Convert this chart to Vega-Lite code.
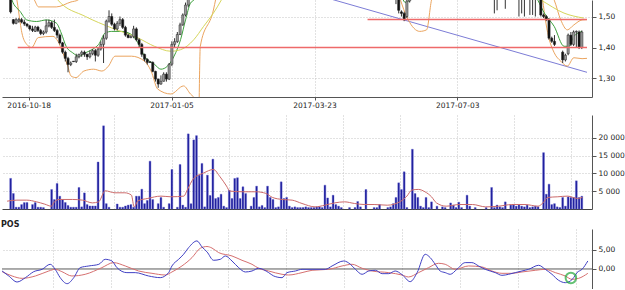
{
"$schema":"https://vega.github.io/schema/vega-lite/v6.json",
"padding":0,
"background":"white",
"spacing":6,
"resolve":{"scale":{"color":"independent"}},
"config":{"view":{"stroke":null},"axis":{"labelFont":"DejaVu Sans","labelFontSize":7.5,"labelColor":"#222","domainColor":"#555","tickColor":"#555","gridColor":"#c4c4c4","gridDash":[1,2],"title":null,"labelOverlap":false,"zindex":0},"axisY":{"labelOverlap":false},"axisRight":{"labelOverlap":false},"title":{"font":"DejaVu Sans","fontSize":8,"fontWeight":"bold","color":"#222"}},
"datasets":{
"candles":[
{"i":0,"o":1.56,"h":1.565,"l":1.51,"c":1.515},{"i":1,"o":1.49,"h":1.492,"l":1.474,"c":1.478},{"i":2,"o":1.478,"h":1.495,"l":1.475,"c":1.49},{"i":3,"o":1.485,"h":1.495,"l":1.48,"c":1.49},{"i":4,"o":1.49,"h":1.495,"l":1.478,"c":1.482},{"i":5,"o":1.482,"h":1.49,"l":1.47,"c":1.476},{"i":6,"o":1.476,"h":1.478,"l":1.465,"c":1.47},{"i":7,"o":1.47,"h":1.472,"l":1.455,"c":1.46},{"i":8,"o":1.46,"h":1.47,"l":1.45,"c":1.455},{"i":9,"o":1.452,"h":1.47,"l":1.45,"c":1.466},{"i":10,"o":1.466,"h":1.47,"l":1.45,"c":1.455},{"i":11,"o":1.455,"h":1.46,"l":1.44,"c":1.445},{"i":12,"o":1.445,"h":1.455,"l":1.44,"c":1.45},{"i":13,"o":1.45,"h":1.49,"l":1.445,"c":1.47},{"i":14,"o":1.47,"h":1.49,"l":1.465,"c":1.48},{"i":15,"o":1.48,"h":1.485,"l":1.46,"c":1.465},{"i":16,"o":1.465,"h":1.49,"l":1.45,"c":1.455},{"i":17,"o":1.455,"h":1.46,"l":1.43,"c":1.44},{"i":18,"o":1.44,"h":1.445,"l":1.41,"c":1.415},{"i":19,"o":1.415,"h":1.418,"l":1.38,"c":1.385},{"i":20,"o":1.385,"h":1.39,"l":1.355,"c":1.365},{"i":21,"o":1.365,"h":1.37,"l":1.32,"c":1.345},{"i":22,"o":1.345,"h":1.355,"l":1.34,"c":1.35},{"i":23,"o":1.356,"h":1.356,"l":1.354,"c":1.354},{"i":24,"o":1.355,"h":1.38,"l":1.35,"c":1.37},{"i":25,"o":1.37,"h":1.38,"l":1.365,"c":1.378},{"i":26,"o":1.378,"h":1.39,"l":1.37,"c":1.385},{"i":27,"o":1.385,"h":1.39,"l":1.37,"c":1.378},{"i":28,"o":1.378,"h":1.38,"l":1.36,"c":1.37},{"i":29,"o":1.37,"h":1.39,"l":1.365,"c":1.38},{"i":30,"o":1.38,"h":1.395,"l":1.375,"c":1.39},{"i":31,"o":1.39,"h":1.395,"l":1.355,"c":1.375},{"i":32,"o":1.375,"h":1.4,"l":1.37,"c":1.395},{"i":33,"o":1.395,"h":1.42,"l":1.39,"c":1.41},{"i":34,"o":1.41,"h":1.44,"l":1.35,"c":1.43},{"i":35,"o":1.43,"h":1.49,"l":1.425,"c":1.485},{"i":36,"o":1.485,"h":1.52,"l":1.48,"c":1.5},{"i":37,"o":1.5,"h":1.51,"l":1.47,"c":1.475},{"i":38,"o":1.475,"h":1.48,"l":1.455,"c":1.46},{"i":39,"o":1.46,"h":1.485,"l":1.455,"c":1.478},{"i":40,"o":1.478,"h":1.5,"l":1.47,"c":1.49},{"i":41,"o":1.49,"h":1.495,"l":1.46,"c":1.465},{"i":42,"o":1.465,"h":1.47,"l":1.435,"c":1.44},{"i":43,"o":1.44,"h":1.445,"l":1.43,"c":1.432},{"i":44,"o":1.432,"h":1.44,"l":1.43,"c":1.435},{"i":45,"o":1.435,"h":1.47,"l":1.43,"c":1.46},{"i":46,"o":1.46,"h":1.465,"l":1.42,"c":1.425},{"i":47,"o":1.425,"h":1.43,"l":1.4,"c":1.41},{"i":48,"o":1.41,"h":1.415,"l":1.37,"c":1.378},{"i":49,"o":1.378,"h":1.38,"l":1.355,"c":1.362},{"i":50,"o":1.362,"h":1.365,"l":1.345,"c":1.352},{"i":51,"o":1.354,"h":1.355,"l":1.35,"c":1.352},{"i":52,"o":1.352,"h":1.355,"l":1.32,"c":1.323},{"i":53,"o":1.323,"h":1.325,"l":1.29,"c":1.298},{"i":54,"o":1.298,"h":1.3,"l":1.27,"c":1.282},{"i":55,"o":1.282,"h":1.31,"l":1.28,"c":1.291},{"i":56,"o":1.291,"h":1.32,"l":1.29,"c":1.314},{"i":57,"o":1.314,"h":1.32,"l":1.29,"c":1.298},{"i":58,"o":1.298,"h":1.35,"l":1.295,"c":1.346},{"i":59,"o":1.346,"h":1.42,"l":1.34,"c":1.41},{"i":60,"o":1.41,"h":1.43,"l":1.4,"c":1.419},{"i":61,"o":1.419,"h":1.45,"l":1.415,"c":1.442},{"i":62,"o":1.442,"h":1.48,"l":1.44,"c":1.473},{"i":63,"o":1.473,"h":1.51,"l":1.47,"c":1.505},{"i":64,"o":1.505,"h":1.545,"l":1.5,"c":1.537},{"i":65,"o":1.537,"h":1.58,"l":1.53,"c":1.57},
{"i":141,"o":1.58,"h":1.59,"l":1.54,"c":1.56},{"i":142,"o":1.56,"h":1.565,"l":1.51,"c":1.52},{"i":143,"o":1.515,"h":1.52,"l":1.5,"c":1.51},{"i":144,"o":1.51,"h":1.515,"l":1.485,"c":1.49},{"i":145,"o":1.5,"h":1.57,"l":1.495,"c":1.55},{"i":146,"o":1.55,"h":1.6,"l":1.545,"c":1.58},
{"i":177,"o":1.58,"h":1.59,"l":1.51,"c":1.56},{"i":178,"o":1.56,"h":1.57,"l":1.52,"c":1.565},{"i":181,"o":1.56,"h":1.58,"l":1.525,"c":1.57},{"i":186,"o":1.57,"h":1.58,"l":1.5,"c":1.56},{"i":187,"o":1.56,"h":1.57,"l":1.51,"c":1.565},{"i":188,"o":1.56,"h":1.58,"l":1.5,"c":1.565},{"i":190,"o":1.565,"h":1.57,"l":1.505,"c":1.56},{"i":191,"o":1.56,"h":1.58,"l":1.505,"c":1.565},{"i":192,"o":1.565,"h":1.57,"l":1.5,"c":1.56},{"i":194,"o":1.56,"h":1.565,"l":1.5,"c":1.505},{"i":195,"o":1.505,"h":1.51,"l":1.495,"c":1.5},{"i":196,"o":1.5,"h":1.505,"l":1.485,"c":1.49},{"i":197,"o":1.49,"h":1.495,"l":1.425,"c":1.43},{"i":198,"o":1.43,"h":1.435,"l":1.415,"c":1.42},{"i":199,"o":1.42,"h":1.44,"l":1.405,"c":1.41},{"i":202,"o":1.385,"h":1.39,"l":1.35,"c":1.36},{"i":203,"o":1.36,"h":1.38,"l":1.355,"c":1.375},{"i":204,"o":1.38,"h":1.445,"l":1.375,"c":1.44},{"i":205,"o":1.44,"h":1.45,"l":1.405,"c":1.41},{"i":206,"o":1.41,"h":1.455,"l":1.405,"c":1.45},{"i":207,"o":1.45,"h":1.455,"l":1.4,"c":1.452},{"i":208,"o":1.45,"h":1.455,"l":1.395,"c":1.4},{"i":209,"o":1.4,"h":1.455,"l":1.395,"c":1.45}
],
"plines":[
{"s":"u1","k":"band","i":4,"v":1.6},{"s":"u1","k":"band","i":8.7,"v":1.553},{"s":"u1","k":"band","i":10.2,"v":1.531},{"s":"u1","k":"band","i":16.7,"v":1.531},{"s":"u1","k":"band","i":22.1,"v":1.547},{"s":"u1","k":"band","i":24.6,"v":1.553},{"s":"u1","k":"band","i":28,"v":1.6},
{"s":"l1","k":"band","i":1,"v":1.6},{"s":"l1","k":"band","i":2.3,"v":1.553},{"s":"l1","k":"band","i":3.5,"v":1.48},{"s":"l1","k":"band","i":4.1,"v":1.448},{"s":"l1","k":"band","i":5.9,"v":1.41},{"s":"l1","k":"band","i":7.7,"v":1.4},{"s":"l1","k":"band","i":10.1,"v":1.432},{"s":"l1","k":"band","i":15.5,"v":1.436},{"s":"l1","k":"band","i":17.3,"v":1.42},{"s":"l1","k":"band","i":19.1,"v":1.383},{"s":"l1","k":"band","i":20.9,"v":1.34},{"s":"l1","k":"band","i":22.1,"v":1.308},{"s":"l1","k":"band","i":23.9,"v":1.303},{"s":"l1","k":"band","i":26.8,"v":1.324},{"s":"l1","k":"band","i":30.4,"v":1.33},{"s":"l1","k":"band","i":33.4,"v":1.324},{"s":"l1","k":"band","i":35.8,"v":1.34},{"s":"l1","k":"band","i":38.2,"v":1.372},{"s":"l1","k":"band","i":44.2,"v":1.372},{"s":"l1","k":"band","i":49,"v":1.356},{"s":"l1","k":"band","i":51.4,"v":1.324},{"s":"l1","k":"band","i":53.8,"v":1.266},{"s":"l1","k":"band","i":58.6,"v":1.25},{"s":"l1","k":"band","i":63.3,"v":1.276},{"s":"l1","k":"band","i":65.8,"v":1.25},{"s":"l1","k":"band","i":67,"v":1.24},
{"s":"u2","k":"band","i":69,"v":1.24},{"s":"u2","k":"band","i":69.4,"v":1.404},{"s":"u2","k":"band","i":74.2,"v":1.521},{"s":"u2","k":"band","i":76,"v":1.6},
{"s":"l2","k":"band","i":141,"v":1.6},{"s":"l2","k":"band","i":145.5,"v":1.489},{"s":"l2","k":"band","i":149.7,"v":1.452},{"s":"l2","k":"band","i":152.2,"v":1.457},{"s":"l2","k":"band","i":154,"v":1.553},{"s":"l2","k":"band","i":156,"v":1.6},
{"s":"u3","k":"band","i":196,"v":1.6},{"s":"u3","k":"band","i":198.9,"v":1.553},{"s":"u3","k":"band","i":201.3,"v":1.489},{"s":"u3","k":"band","i":203.7,"v":1.457},{"s":"u3","k":"band","i":206.1,"v":1.473},{"s":"u3","k":"band","i":209.1,"v":1.489},{"s":"u3","k":"band","i":210.9,"v":1.49},
{"s":"l3","k":"band","i":194,"v":1.6},{"s":"l3","k":"band","i":196.5,"v":1.448},{"s":"l3","k":"band","i":198.9,"v":1.383},{"s":"l3","k":"band","i":201.3,"v":1.356},{"s":"l3","k":"band","i":203.7,"v":1.34},{"s":"l3","k":"band","i":206.1,"v":1.367},{"s":"l3","k":"band","i":209.1,"v":1.364},{"s":"l3","k":"band","i":210.9,"v":1.365},
{"s":"g1","k":"ma","i":-1,"v":1.6},{"s":"g1","k":"ma","i":0.5,"v":1.553},{"s":"g1","k":"ma","i":3.5,"v":1.516},{"s":"g1","k":"ma","i":5.9,"v":1.489},{"s":"g1","k":"ma","i":9.5,"v":1.484},{"s":"g1","k":"ma","i":13.1,"v":1.489},{"s":"g1","k":"ma","i":16.7,"v":1.479},{"s":"g1","k":"ma","i":18.5,"v":1.447},{"s":"g1","k":"ma","i":20.3,"v":1.404},{"s":"g1","k":"ma","i":22.7,"v":1.383},{"s":"g1","k":"ma","i":25,"v":1.372},{"s":"g1","k":"ma","i":27.4,"v":1.383},{"s":"g1","k":"ma","i":29.9,"v":1.394},{"s":"g1","k":"ma","i":32.2,"v":1.41},{"s":"g1","k":"ma","i":34.6,"v":1.447},{"s":"g1","k":"ma","i":37,"v":1.452},{"s":"g1","k":"ma","i":40.6,"v":1.452},{"s":"g1","k":"ma","i":44.2,"v":1.442},{"s":"g1","k":"ma","i":46.6,"v":1.415},{"s":"g1","k":"ma","i":49,"v":1.372},{"s":"g1","k":"ma","i":52.6,"v":1.346},{"s":"g1","k":"ma","i":55,"v":1.33},{"s":"g1","k":"ma","i":57.4,"v":1.34},{"s":"g1","k":"ma","i":59.8,"v":1.372},{"s":"g1","k":"ma","i":62.2,"v":1.426},{"s":"g1","k":"ma","i":64,"v":1.489},{"s":"g1","k":"ma","i":65.8,"v":1.543},{"s":"g1","k":"ma","i":67,"v":1.553},{"s":"g1","k":"ma","i":70,"v":1.62},
{"s":"g2","k":"ma","i":142,"v":1.6},{"s":"g2","k":"ma","i":144.5,"v":1.545},{"s":"g2","k":"ma","i":146,"v":1.553},{"s":"g2","k":"ma","i":148,"v":1.6},
{"s":"g3","k":"ma","i":190,"v":1.6},{"s":"g3","k":"ma","i":192.9,"v":1.553},{"s":"g3","k":"ma","i":195.3,"v":1.511},{"s":"g3","k":"ma","i":198.9,"v":1.468},{"s":"g3","k":"ma","i":202.5,"v":1.404},{"s":"g3","k":"ma","i":204.3,"v":1.404},{"s":"g3","k":"ma","i":206.1,"v":1.436},{"s":"g3","k":"ma","i":209.1,"v":1.452},
{"s":"y1","k":"ma2","i":14,"v":1.6},{"s":"y1","k":"ma2","i":17.3,"v":1.553},{"s":"y1","k":"ma2","i":27.4,"v":1.5},{"s":"y1","k":"ma2","i":37,"v":1.463},{"s":"y1","k":"ma2","i":46.6,"v":1.431},{"s":"y1","k":"ma2","i":52.6,"v":1.404},{"s":"y1","k":"ma2","i":58.6,"v":1.388},{"s":"y1","k":"ma2","i":62.2,"v":1.393},{"s":"y1","k":"ma2","i":67,"v":1.425},{"s":"y1","k":"ma2","i":70.6,"v":1.468},{"s":"y1","k":"ma2","i":74.2,"v":1.511},{"s":"y1","k":"ma2","i":80,"v":1.6},
{"s":"y2","k":"ma2","i":185,"v":1.6},{"s":"y2","k":"ma2","i":194.1,"v":1.553},{"s":"y2","k":"ma2","i":202.5,"v":1.511},{"s":"y2","k":"ma2","i":209.7,"v":1.495}
],
"hlines":[{"id":"a","i":2.6,"v":1.40},{"id":"a","i":210.9,"v":1.40},{"id":"b","i":130.6,"v":1.49},{"id":"b","i":210.9,"v":1.49}],
"trend":[{"i":110,"v":1.5745},{"i":210.9,"v":1.32}],
"vol":[
{"i":0,"v":8600},{"i":1,"v":4350},{"i":2,"v":500},{"i":3,"v":500},{"i":4,"v":1240},{"i":5,"v":1800},{"i":6,"v":1800},{"i":8,"v":1240},{"i":9,"v":1800},{"i":10,"v":500},{"i":11,"v":500},{"i":12,"v":400},{"i":15,"v":5470},{"i":16,"v":2650},{"i":17,"v":7170},{"i":18,"v":3590},{"i":19,"v":2650},{"i":20,"v":1800},{"i":21,"v":1000},{"i":22,"v":500},{"i":23,"v":500},{"i":24,"v":500},{"i":25,"v":6040},{"i":26,"v":600},{"i":27,"v":4520},{"i":28,"v":1240},{"i":29,"v":850},{"i":30,"v":850},{"i":31,"v":850},{"i":32,"v":13190},{"i":34,"v":23360},{"i":35,"v":1500},{"i":36,"v":500},{"i":39,"v":1400},{"i":40,"v":500},{"i":41,"v":500},{"i":42,"v":850},{"i":43,"v":1100},{"i":44,"v":1240},{"i":45,"v":500},{"i":46,"v":3600},{"i":47,"v":3600},{"i":48,"v":5560},{"i":49,"v":1500},{"i":50,"v":2400},{"i":51,"v":13440},{"i":52,"v":2650},{"i":54,"v":1500},{"i":55,"v":3200},{"i":56,"v":500},{"i":58,"v":1500},{"i":59,"v":11100},{"i":61,"v":500},{"i":62,"v":12500},{"i":63,"v":1100},{"i":64,"v":500},{"i":65,"v":21100},{"i":66,"v":1500},{"i":67,"v":19400},{"i":68,"v":20600},{"i":69,"v":9500},{"i":70,"v":12800},{"i":71,"v":600},{"i":72,"v":9500},{"i":73,"v":3800},{"i":74,"v":14000},{"i":75,"v":2940},{"i":76,"v":3240},{"i":77,"v":4150},{"i":78,"v":800},{"i":79,"v":400},{"i":80,"v":5280},{"i":81,"v":2940},{"i":82,"v":8580},{"i":83,"v":8780},{"i":84,"v":2940},{"i":85,"v":6220},{"i":86,"v":4340},{"i":88,"v":800},{"i":89,"v":3240},{"i":90,"v":6410},{"i":91,"v":600},{"i":92,"v":1000},{"i":93,"v":400},{"i":94,"v":6410},{"i":95,"v":3240},{"i":96,"v":2650},{"i":97,"v":400},{"i":98,"v":600},{"i":99,"v":7630},{"i":100,"v":2940},{"i":101,"v":3240},{"i":102,"v":800},{"i":103,"v":400},{"i":104,"v":600},{"i":105,"v":400},{"i":106,"v":400},{"i":107,"v":400},{"i":108,"v":600},{"i":109,"v":400},{"i":110,"v":400},{"i":111,"v":400},{"i":112,"v":600},{"i":113,"v":600},{"i":114,"v":400},{"i":115,"v":6700},{"i":116,"v":3100},{"i":117,"v":600},{"i":118,"v":3870},{"i":119,"v":1240},{"i":120,"v":800},{"i":121,"v":400},{"i":124,"v":400},{"i":126,"v":400},{"i":127,"v":2100},{"i":128,"v":600},{"i":130,"v":5470},{"i":133,"v":400},{"i":134,"v":400},{"i":135,"v":1240},{"i":138,"v":400},{"i":139,"v":600},{"i":140,"v":1500},{"i":141,"v":3240},{"i":142,"v":7350},{"i":143,"v":5470},{"i":144,"v":10450},{"i":145,"v":400},{"i":147,"v":16780},{"i":148,"v":4340},{"i":149,"v":3240},{"i":150,"v":800},{"i":151,"v":400},{"i":152,"v":3240},{"i":153,"v":400},{"i":154,"v":2000},{"i":156,"v":800},{"i":158,"v":600},{"i":159,"v":400},{"i":161,"v":1700},{"i":162,"v":1100},{"i":163,"v":400},{"i":164,"v":1900},{"i":165,"v":400},{"i":167,"v":3870},{"i":168,"v":800},{"i":170,"v":400},{"i":174,"v":400},{"i":176,"v":6040},{"i":177,"v":400},{"i":178,"v":1100},{"i":179,"v":600},{"i":180,"v":400},{"i":181,"v":2000},{"i":183,"v":1100},{"i":184,"v":1100},{"i":185,"v":800},{"i":186,"v":1100},{"i":187,"v":800},{"i":188,"v":600},{"i":189,"v":1100},{"i":190,"v":400},{"i":191,"v":600},{"i":192,"v":800},{"i":193,"v":600},{"i":195,"v":15820},{"i":196,"v":4150},{"i":197,"v":6980},{"i":198,"v":1240},{"i":199,"v":1500},{"i":200,"v":600},{"i":201,"v":400},{"i":202,"v":3240},{"i":203,"v":800},{"i":204,"v":3400},{"i":205,"v":3240},{"i":206,"v":3240},{"i":207,"v":7910},{"i":208,"v":3200},{"i":209,"v":3590}
],
"volma":[
{"i":-1.3,"v":2200},{"i":2.3,"v":2490},{"i":5.9,"v":2490},{"i":9.5,"v":2010},{"i":12.5,"v":1360},{"i":14.9,"v":790},{"i":16,"v":2010},{"i":17.8,"v":2680},{"i":22.6,"v":2680},{"i":26.3,"v":2490},{"i":29.9,"v":1720},{"i":32.2,"v":2010},{"i":34.6,"v":5110},{"i":38.2,"v":4550},{"i":41.8,"v":4550},{"i":44.2,"v":3900},{"i":45.2,"v":600},{"i":46.6,"v":2290},{"i":50.2,"v":2970},{"i":55,"v":3620},{"i":58.6,"v":3430},{"i":63.4,"v":3620},{"i":64.6,"v":5310},{"i":67,"v":8610},{"i":70.6,"v":10100},{"i":74.2,"v":11100},{"i":76.6,"v":9070},{"i":79,"v":6440},{"i":80.2,"v":5030},{"i":85,"v":4840},{"i":89.8,"v":4840},{"i":93.4,"v":4380},{"i":95.8,"v":3250},{"i":99.4,"v":2680},{"i":103,"v":2490},{"i":106.6,"v":1550},{"i":111.4,"v":600},{"i":115,"v":1070},{"i":118.6,"v":1720},{"i":122.2,"v":2010},{"i":125.8,"v":1550},{"i":129.4,"v":1260},{"i":133,"v":1260},{"i":137.8,"v":1070},{"i":142.6,"v":2100},{"i":145,"v":3620},{"i":146.8,"v":5310},{"i":149.2,"v":5500},{"i":151.6,"v":4840},{"i":154,"v":3430},{"i":155.8,"v":1720},{"i":159.4,"v":790},{"i":164.2,"v":1260},{"i":169,"v":1260},{"i":173.8,"v":600},{"i":178.6,"v":790},{"i":183.4,"v":1260},{"i":188.2,"v":1260},{"i":193,"v":790},{"i":194.8,"v":1720},{"i":196.6,"v":3250},{"i":200.2,"v":3430},{"i":203.8,"v":3620},{"i":207.4,"v":2970},{"i":209.2,"v":3250}
],
"pos":[
{"s":"pos","i":-1.3,"v":-0.53},{"s":"pos","i":1.1,"v":-1.84},{"s":"pos","i":4.1,"v":-3.42},{"s":"pos","i":7.1,"v":-2.28},{"s":"pos","i":10.1,"v":-0.7},{"s":"pos","i":13.1,"v":-0.09},{"s":"pos","i":16,"v":1.23},{"s":"pos","i":17.8,"v":-0.09},{"s":"pos","i":19.6,"v":-2.28},{"s":"pos","i":22.1,"v":-3.86},{"s":"pos","i":24.5,"v":-2.28},{"s":"pos","i":26.8,"v":0.35},{"s":"pos","i":29.9,"v":0.79},{"s":"pos","i":33.5,"v":1.23},{"s":"pos","i":35.8,"v":2.54},{"s":"pos","i":38.2,"v":2.1},{"s":"pos","i":40,"v":0.35},{"s":"pos","i":43.6,"v":-0.96},{"s":"pos","i":46.6,"v":-0.96},{"s":"pos","i":51.4,"v":-1.84},{"s":"pos","i":55.6,"v":-2.28},{"s":"pos","i":58.6,"v":-0.96},{"s":"pos","i":59.8,"v":0.79},{"s":"pos","i":62.2,"v":2.54},{"s":"pos","i":64,"v":3.86},{"s":"pos","i":65.8,"v":5.61},{"s":"pos","i":68.8,"v":7.37},{"s":"pos","i":70.6,"v":5.8},{"s":"pos","i":72.4,"v":4.5},{"s":"pos","i":74.8,"v":2.28},{"s":"pos","i":77.2,"v":2.54},{"s":"pos","i":79,"v":3.42},{"s":"pos","i":81.4,"v":2.1},{"s":"pos","i":83.8,"v":0.35},{"s":"pos","i":86.2,"v":-0.79},{"s":"pos","i":88.6,"v":-0.53},{"s":"pos","i":91,"v":0.18},{"s":"pos","i":94.6,"v":-0.96},{"s":"pos","i":96.4,"v":-1.84},{"s":"pos","i":99.4,"v":-2.28},{"s":"pos","i":101.2,"v":-0.96},{"s":"pos","i":104.2,"v":-0.53},{"s":"pos","i":106.6,"v":-0.09},{"s":"pos","i":110.2,"v":-0.09},{"s":"pos","i":115,"v":-0.09},{"s":"pos","i":117.4,"v":0.79},{"s":"pos","i":121.6,"v":2.1},{"s":"pos","i":124,"v":1.23},{"s":"pos","i":125.8,"v":-0.09},{"s":"pos","i":128.2,"v":-1.4},{"s":"pos","i":130.6,"v":-0.53},{"s":"pos","i":133,"v":-0.35},{"s":"pos","i":135.4,"v":-1.23},{"s":"pos","i":137.8,"v":-1.23},{"s":"pos","i":140.1,"v":-0.53},{"s":"pos","i":142.6,"v":-1.5},{"s":"pos","i":145.5,"v":-3.33},{"s":"pos","i":148,"v":-0.96},{"s":"pos","i":150.9,"v":3.86},{"s":"pos","i":152.7,"v":2.98},{"s":"pos","i":154.5,"v":1.23},{"s":"pos","i":156.3,"v":-0.53},{"s":"pos","i":158.1,"v":-0.96},{"s":"pos","i":159.9,"v":-1.4},{"s":"pos","i":162.3,"v":-0.09},{"s":"pos","i":165.3,"v":1.67},{"s":"pos","i":167.7,"v":1.67},{"s":"pos","i":170.1,"v":0.79},{"s":"pos","i":172.5,"v":-0.09},{"s":"pos","i":176.1,"v":-0.96},{"s":"pos","i":178.5,"v":-1.67},{"s":"pos","i":180.9,"v":-1.4},{"s":"pos","i":183.3,"v":-0.96},{"s":"pos","i":185.7,"v":-0.53},{"s":"pos","i":188.1,"v":-0.09},{"s":"pos","i":191.7,"v":0.97},{"s":"pos","i":194.1,"v":-0.09},{"s":"pos","i":196.5,"v":-1.4},{"s":"pos","i":198.9,"v":-2.98},{"s":"pos","i":201.3,"v":-3.6},{"s":"pos","i":203.1,"v":-3.16},{"s":"pos","i":204.3,"v":-2.28},{"s":"pos","i":205.5,"v":-0.96},{"s":"pos","i":207.3,"v":-0.09},{"s":"pos","i":209.4,"v":2.1},
{"s":"sig","i":-1.3,"v":-0.7},{"s":"sig","i":2.3,"v":-1.84},{"s":"sig","i":5.9,"v":-2.46},{"s":"sig","i":10.7,"v":-1.84},{"s":"sig","i":15.5,"v":-0.53},{"s":"sig","i":17.8,"v":-0.09},{"s":"sig","i":20.2,"v":-0.7},{"s":"sig","i":23.8,"v":-1.84},{"s":"sig","i":28.6,"v":-1.4},{"s":"sig","i":34.6,"v":0.35},{"s":"sig","i":38.8,"v":1.67},{"s":"sig","i":43,"v":0.79},{"s":"sig","i":47.8,"v":-0.53},{"s":"sig","i":52.6,"v":-1.14},{"s":"sig","i":57.4,"v":-1.58},{"s":"sig","i":59.8,"v":-0.79},{"s":"sig","i":63.4,"v":0.79},{"s":"sig","i":67,"v":2.98},{"s":"sig","i":70,"v":5.44},{"s":"sig","i":72.4,"v":5.9},{"s":"sig","i":74.2,"v":5.5},{"s":"sig","i":76.6,"v":4.3},{"s":"sig","i":81.4,"v":3.42},{"s":"sig","i":85,"v":2.28},{"s":"sig","i":88.6,"v":1.23},{"s":"sig","i":91,"v":0.18},{"s":"sig","i":94.6,"v":-0.53},{"s":"sig","i":99.4,"v":-1.4},{"s":"sig","i":101.8,"v":-1.58},{"s":"sig","i":106.6,"v":-0.96},{"s":"sig","i":110.2,"v":-0.35},{"s":"sig","i":116.2,"v":-0.09},{"s":"sig","i":121,"v":0.79},{"s":"sig","i":124.6,"v":1.23},{"s":"sig","i":128.2,"v":0.18},{"s":"sig","i":131.8,"v":-0.53},{"s":"sig","i":137.8,"v":-0.96},{"s":"sig","i":142.6,"v":-1.6},{"s":"sig","i":144.9,"v":-2.1},{"s":"sig","i":148.5,"v":-0.96},{"s":"sig","i":152.1,"v":0.35},{"s":"sig","i":155.7,"v":1.49},{"s":"sig","i":158.1,"v":1.23},{"s":"sig","i":161.7,"v":-0.09},{"s":"sig","i":166.5,"v":0.79},{"s":"sig","i":171.3,"v":0.53},{"s":"sig","i":174.9,"v":-0.53},{"s":"sig","i":178.5,"v":-1.14},{"s":"sig","i":182.1,"v":-1.14},{"s":"sig","i":185.7,"v":-0.79},{"s":"sig","i":190.5,"v":-0.35},{"s":"sig","i":194.1,"v":-0.09},{"s":"sig","i":197.7,"v":-0.96},{"s":"sig","i":201.3,"v":-1.84},{"s":"sig","i":203.7,"v":-2.72},{"s":"sig","i":206.1,"v":-2.46},{"s":"sig","i":209.4,"v":-1.14}
],
"mark":[{"i":203.3,"v":-2.37}],
"zero":[{"i":-1.33,"v":0},{"i":210.9,"v":0}]
},
"vconcat":[
{"width":590,"height":97,
 "encoding":{"x":{"field":"i","type":"quantitative","scale":{"domain":[-1.33,210.9],"nice":false,"zero":false}}},
 "layer":[
  {"data":{"name":"trend"},"mark":{"type":"line","stroke":"#7c7cd6","strokeWidth":1,"clip":true},
   "encoding":{"x":{"field":"i","type":"quantitative","axis":{"orient":"bottom","values":[6.6,58.9,111.2,163.4],"labelExpr":"datum.value<30?'2016-10-18':datum.value<80?'2017-01-05':datum.value<130?'2017-03-23':'2017-07-03'","tickSize":3,"labelPadding":1,"grid":true,"labelFlush":false,"labelOverlap":false}},
    "y":{"field":"v","type":"quantitative","scale":{"domain":[1.2403,1.5533],"nice":false,"zero":false},"axis":{"orient":"right","values":[1.3,1.4,1.5],"labelExpr":"datum.value<1.35?'1,30':datum.value<1.45?'1,40':'1,50'","tickSize":4,"labelPadding":2,"grid":true,"labelOverlap":false,"gridOpacity":{"condition":{"test":"datum.value>1.39 && datum.value<1.41","value":0},"value":1}}}}},
  {"data":{"name":"plines"},"mark":{"type":"line","strokeWidth":1,"clip":true,"interpolate":"monotone"},
   "encoding":{"y":{"field":"v","type":"quantitative"},"detail":{"field":"s"},"color":{"field":"k","type":"nominal","scale":{"domain":["band","ma","ma2"],"range":["#eba45e","#3da03d","#d6d65c"]},"legend":null},"order":{"field":"i","type":"quantitative"}}},
  {"data":{"name":"candles"},"mark":{"type":"rule","stroke":"#333","strokeWidth":1,"clip":true},
   "encoding":{"y":{"field":"l","type":"quantitative"},"y2":{"field":"h"}}},
  {"data":{"name":"candles"},"mark":{"type":"bar","size":2.2,"clip":true,"stroke":"#222","strokeWidth":0.5},
   "encoding":{"y":{"field":"o","type":"quantitative"},"y2":{"field":"c"},"fill":{"condition":{"test":"datum.c<datum.o","value":"#111111"},"value":"#9a9a9a"}}},
  {"data":{"name":"hlines"},"mark":{"type":"line","stroke":"#ee6a6a","strokeWidth":1.5,"clip":true},
   "encoding":{"detail":{"field":"id"},"y":{"field":"v","type":"quantitative"}}}
 ]},
{"spacing":11,
 "vconcat":[
 {"width":590,"height":94,
 "encoding":{"x":{"field":"i","type":"quantitative","scale":{"domain":[-1.33,210.9],"nice":false,"zero":false},"axis":{"values":[17.1,38.0,58.9,79.8,100.7,121.6,142.5,163.4,184.3,205.2],"labels":false,"ticks":false,"grid":true,"domainColor":"#444"}}},
 "layer":[
  {"data":{"name":"vol"},"mark":{"type":"bar","size":1.8,"fill":"#1c1c9a","stroke":"#5a5acc","strokeWidth":0.4},
   "encoding":{"y":{"field":"v","type":"quantitative","scale":{"domain":[0,26400],"nice":false},"axis":{"orient":"right","values":[5000,10000,15000,20000],"labelExpr":"datum.value<7500?'5 000':datum.value<12500?'10 000':datum.value<17500?'15 000':'20 000'","tickSize":4,"labelPadding":2,"grid":true,"labelOverlap":false}}}},
  {"data":{"name":"volma"},"mark":{"type":"line","stroke":"#cc6a6a","strokeWidth":1,"interpolate":"monotone"},
   "encoding":{"y":{"field":"v","type":"quantitative","axis":{"orient":"right","values":[5000,10000,15000,20000],"labelExpr":"datum.value<7500?'5 000':datum.value<12500?'10 000':datum.value<17500?'15 000':'20 000'","tickSize":4,"labelPadding":2,"grid":true,"labelOverlap":false}}}}
 ]},
 {"width":590,"height":60,
 "title":{"text":"POS","anchor":"start","offset":0,"dx":1},
 "encoding":{"x":{"field":"i","type":"quantitative","scale":{"domain":[-1.33,210.9],"nice":false,"zero":false},"axis":{"values":[17.1,38.0,58.9,79.8,100.7,121.6,142.5,163.4,184.3,205.2],"labels":false,"ticks":false,"grid":true,"domainColor":"#444"}}},
 "layer":[
  {"data":{"name":"zero"},"mark":{"type":"line","stroke":"#5a5a5a","strokeWidth":1},
   "encoding":{"y":{"field":"v","type":"quantitative","scale":{"domain":[-5.26,10.5],"nice":false,"zero":false},"axis":{"orient":"right","values":[0,5],"labelExpr":"datum.value<2?'0,00':'5,00'","tickSize":4,"labelPadding":2,"grid":true,"labelOverlap":false,"gridOpacity":{"condition":{"test":"datum.value<2","value":0},"value":1}}}}},
  {"data":{"name":"pos"},"transform":[{"filter":"datum.s=='sig'"}],"mark":{"type":"line","stroke":"#d67070","strokeWidth":1,"interpolate":"monotone"},
   "encoding":{"y":{"field":"v","type":"quantitative"},"order":{"field":"i","type":"quantitative"}}},
  {"data":{"name":"pos"},"transform":[{"filter":"datum.s=='pos'"}],"mark":{"type":"line","stroke":"#4040c4","strokeWidth":1,"interpolate":"monotone"},
   "encoding":{"y":{"field":"v","type":"quantitative"},"order":{"field":"i","type":"quantitative"}}},
  {"data":{"name":"mark"},"mark":{"type":"point","shape":"circle","size":110,"filled":false,"stroke":"#22a83a","strokeWidth":2},
   "encoding":{"y":{"field":"v","type":"quantitative"}}}
 ]}
 ]}
]
}
